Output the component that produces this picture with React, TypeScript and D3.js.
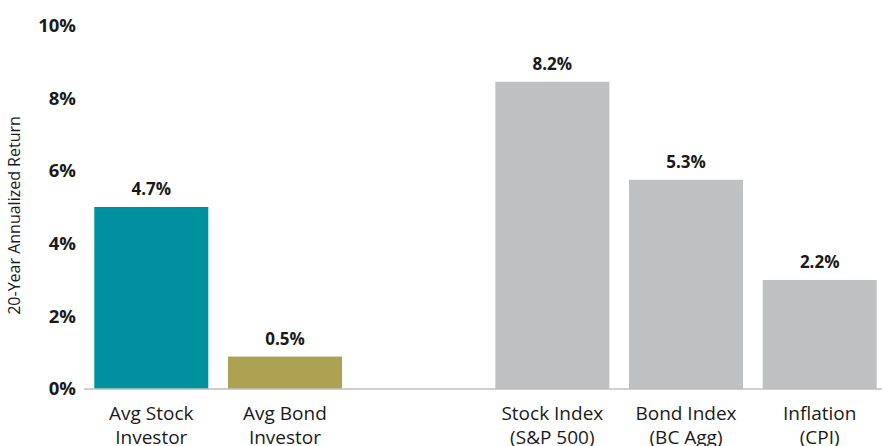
import React from "react";
import * as d3 from "d3";

const categories = ["avgStock", "avgBond", "gap", "stockIndex", "bondIndex", "inflation"];
const categoryLines: string[][] = [
  ["Avg Stock", "Investor"],
  ["Avg Bond", "Investor"],
  [],
  ["Stock Index", "(S&P 500)"],
  ["Bond Index", "(BC Agg)"],
  ["Inflation", "(CPI)"],
];
// bar heights as drawn in the picture (in % units of the axis)
const barHeights = [5.0, 0.88, null, 8.45, 5.75, 2.99];
// printed value labels
const valueLabels = ["4.7%", "0.5%", "", "8.2%", "5.3%", "2.2%"];
const barColors = ["#0091a0", "#ada152", "none", "#bfc0c2", "#bfc0c2", "#bfc0c2"];
const yTicks = [0, 2, 4, 6, 8, 10];
const yTitle = "20-Year Annualized Return";

const W = 882;
const H = 446;
const FONT = "'Open Sans', 'Noto Sans', sans-serif";

export default function App() {
  const x = d3
    .scaleBand<string>()
    .domain(categories)
    .range([84, 887])
    .paddingInner(0.147)
    .paddingOuter(0.077);
  const y = d3.scaleLinear().domain([0, 10]).range([388.5, 25.5]);

  return (
    <div style={{ position: "absolute", left: 0, top: 0 }}>
      <svg width={W} height={H} style={{ display: "block", fontFamily: FONT }}>
        <rect width={W} height={H} fill="#ffffff" />
        {yTicks.map((t) => (
          <text
            key={t}
            x={76}
            y={y(t)}
            dy="0.36em"
            textAnchor="end"
            fontSize={18.5}
            fontWeight={700}
            fill="#1a1a1a"
          >
            {`${t}%`}
          </text>
        ))}
        <text
          transform={`translate(20, 215.5) rotate(-90)`}
          textAnchor="middle"
          fontSize={16}
          fill="#1a1a1a"
        >
          {yTitle}
        </text>
        {categories.map((c, i) => {
          const v = barHeights[i];
          if (v == null) return null;
          const bx = x(c)!;
          const bw = x.bandwidth();
          return (
            <g key={c}>
              <rect x={bx} y={y(v)} width={bw} height={y(0) - y(v)} fill={barColors[i]} />
              <text
                x={bx + bw / 2}
                y={y(v) - 12}
                textAnchor="middle"
                fontSize={17}
                fontWeight={700}
                fill="#1a1a1a"
              >
                {valueLabels[i]}
              </text>
              {categoryLines[i].map((line, j) => (
                <text
                  key={j}
                  x={bx + bw / 2}
                  y={419.5 + j * 24}
                  textAnchor="middle"
                  fontSize={19}
                  fill="#1a1a1a"
                >
                  {line}
                </text>
              ))}
            </g>
          );
        })}
        <line x1={84} x2={W} y1={y(0) + 0.5} y2={y(0) + 0.5} stroke="#9d9d9d" strokeWidth={1.2} />
      </svg>
    </div>
  );
}
